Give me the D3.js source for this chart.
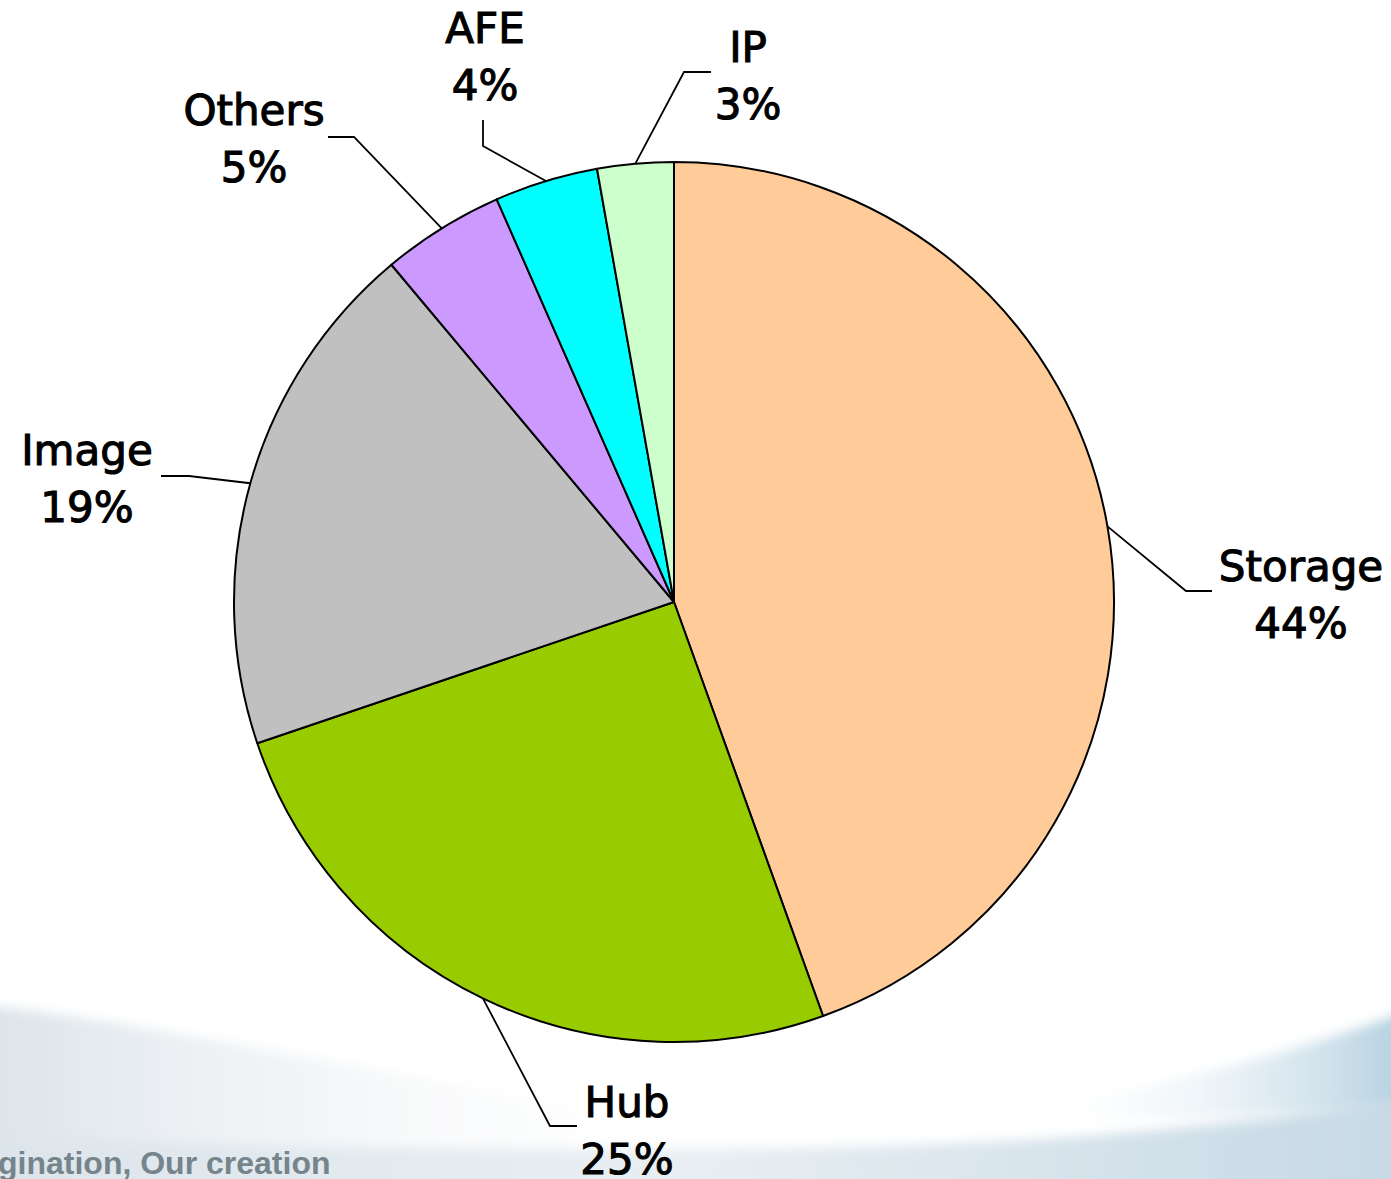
<!DOCTYPE html>
<html>
<head>
<meta charset="utf-8">
<script src="https://cdn.jsdelivr.net/npm/d3@7"></script>
<style>
  html, body { margin: 0; padding: 0; background: #fff; }
  svg { display: block; }
  .lbl { font-family: "DejaVu Sans", Verdana, sans-serif; font-size: 42px; fill: #000; stroke: #000; stroke-width: 1.1px; }
</style>
</head>
<body>
<svg id="chart" width="1391" height="1179"></svg>
<script>
'use strict';

var categories = ["Storage", "Hub", "Image", "Others", "AFE", "IP"];
var shares = [44.5, 25.3, 19.1, 4.5, 3.8, 2.8];
var shareLabels = ["44%", "25%", "19%", "5%", "4%", "3%"];
var sliceColors = ["#FFCC99", "#99CC00", "#C0C0C0", "#CC99FF", "#00FFFF", "#CCFFCC"];

// leader elbow / end and text position per label (page coords)
var labelLayout = [
	{ elbow: [1186, 591], end: [1212, 591], text: [1301, 581] },
	{ elbow: [550, 1126], end: [577, 1126], text: [627, 1117] },
	{ elbow: [189, 476], end: [161, 476], text: [87, 465] },
	{ elbow: [354, 137], end: [328, 137], text: [254, 125] },
	{ elbow: [483, 146], end: [483, 120], text: [485, 43] },
	{ elbow: [684, 72], end: [711, 72], text: [748, 62] }
];

var W = 1391, H = 1179;
var cx = 674, cy = 602, R = 440;
var lineGap = 57;

var svg = d3.select('#chart');
var defs = svg.append('defs');

// background swoosh (slide template)
var g1 = defs.append('linearGradient').attr('id', 'bandGrad').attr('x1', 0).attr('x2', 1).attr('y1', 0).attr('y2', 0);
g1.append('stop').attr('offset', '0').attr('stop-color', '#dde5eb');
g1.append('stop').attr('offset', '0.5').attr('stop-color', '#e8eef2');
g1.append('stop').attr('offset', '1').attr('stop-color', '#c6d9e5');
var g2 = defs.append('linearGradient').attr('id', 'leftGrad').attr('x1', 0).attr('x2', 1).attr('y1', 0).attr('y2', 0);
g2.append('stop').attr('offset', '0').attr('stop-color', '#dbe3e9');
g2.append('stop').attr('offset', '1').attr('stop-color', '#ffffff').attr('stop-opacity', 0);
var g3 = defs.append('linearGradient').attr('id', 'rightGrad').attr('x1', 0).attr('x2', 1).attr('y1', 0).attr('y2', 0);
g3.append('stop').attr('offset', '0').attr('stop-color', '#ffffff').attr('stop-opacity', 0);
g3.append('stop').attr('offset', '1').attr('stop-color', '#9fc3d8');
defs.append('filter').attr('id', 'blur').append('feGaussianBlur').attr('stdDeviation', 6);

var bg = svg.append('g').attr('filter', 'url(#blur)');
bg.append('path')
	.attr('d', 'M-20,1005 C150,1020 450,1090 760,1135 L760,1200 L-20,1200 Z')
	.attr('fill', 'url(#leftGrad)');
bg.append('path')
	.attr('d', 'M-20,1135 C300,1150 800,1158 1100,1135 C1250,1122 1340,1110 1410,1100 L1410,1200 L-20,1200 Z')
	.attr('fill', 'url(#bandGrad)');
bg.append('path')
	.attr('d', 'M1020,1110 C1200,1080 1330,1040 1410,1010 L1410,1100 C1300,1115 1150,1122 1020,1120 Z')
	.attr('fill', 'url(#rightGrad)').attr('opacity', 0.8);

svg.append('text')
	.attr('x', -2).attr('y', 1174)
	.attr('font-family', '"Liberation Sans", Arial, sans-serif')
	.attr('font-size', 32)
	.attr('font-weight', 'bold')
	.attr('fill', '#76848c')
	.text('gination, Our creation');

// pie
var pie = d3.pie().sort(null).value(function (d) { return d; });
var arc = d3.arc().innerRadius(0).outerRadius(R);
var arcs = pie(shares);

var gPie = svg.append('g').attr('transform', 'translate(' + cx + ',' + cy + ')');
gPie.selectAll('path.slice')
	.data(arcs)
	.enter().append('path')
	.attr('class', 'slice')
	.attr('d', arc)
	.attr('fill', function (d, i) { return sliceColors[i]; })
	.attr('stroke', '#000')
	.attr('stroke-width', 2)
	.attr('stroke-linejoin', 'round');

// leader lines from mid-angle on the rim
svg.selectAll('polyline.leader')
	.data(arcs)
	.enter().append('polyline')
	.attr('class', 'leader')
	.attr('fill', 'none')
	.attr('stroke', '#000')
	.attr('stroke-width', 1.8)
	.attr('points', function (d, i) {
		var a = (d.startAngle + d.endAngle) / 2;
		var p0 = [cx + R * Math.sin(a), cy - R * Math.cos(a)];
		var L = labelLayout[i];
		return [p0, L.elbow, L.end].map(function (p) { return p.join(','); }).join(' ');
	});

var lbl = svg.selectAll('text.lbl')
	.data(categories)
	.enter().append('text')
	.attr('class', 'lbl')
	.attr('text-anchor', 'middle');
lbl.append('tspan')
	.attr('x', function (d, i) { return labelLayout[i].text[0]; })
	.attr('y', function (d, i) { return labelLayout[i].text[1]; })
	.text(function (d) { return d; });
lbl.append('tspan')
	.attr('x', function (d, i) { return labelLayout[i].text[0]; })
	.attr('y', function (d, i) { return labelLayout[i].text[1] + lineGap; })
	.text(function (d, i) { return shareLabels[i]; });
</script>
</body>
</html>
